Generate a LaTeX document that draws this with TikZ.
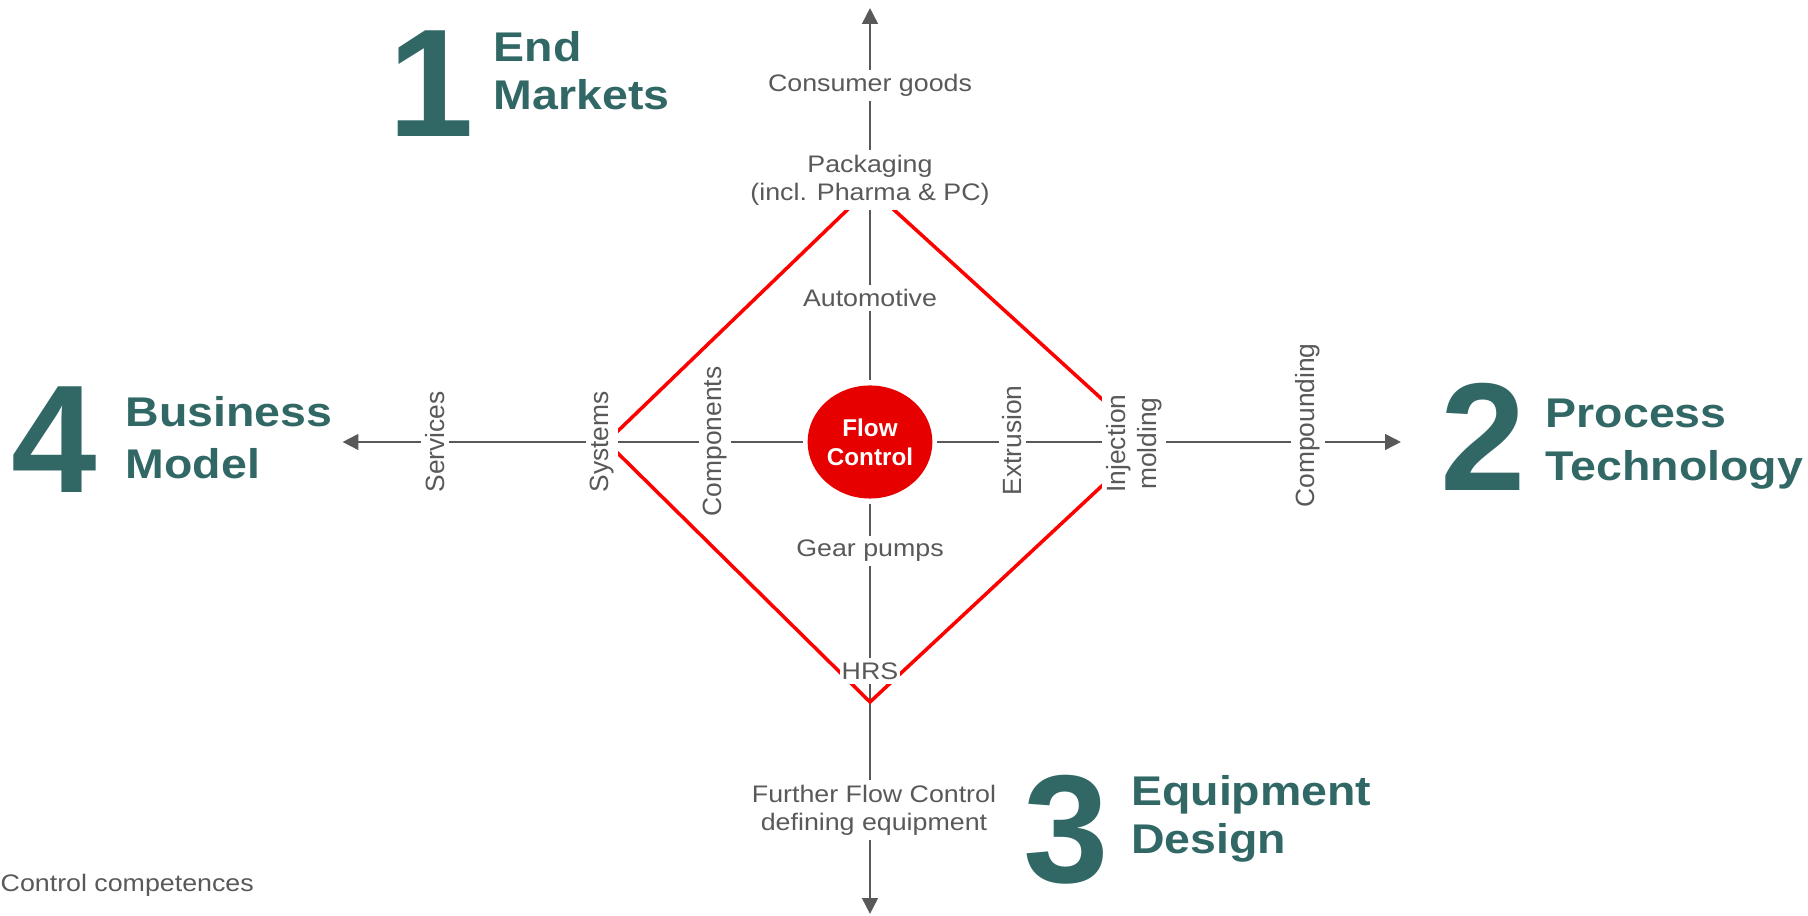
\documentclass[tikz,border=0pt]{standalone}
\usepackage{fontspec}
\setmainfont{Liberation Sans}
\newfontfamily\widefont{Liberation Sans}[FakeStretch=1.12]
\usetikzlibrary{arrows.meta,shapes.geometric}

\definecolor{fcteal}{RGB}{49,104,101}
\definecolor{fcgray}{RGB}{89,89,89}
\definecolor{fcred}{RGB}{255,0,0}
\definecolor{fchub}{RGB}{230,0,0}

\tikzset{
  axis/.style={draw=fcgray, line width=0.75pt},
  axisarrow/.style={axis, -{Triangle[length=4.5pt,width=4.4pt]}},
  rim/.style={draw=fcred, line width=1pt},
  hubnode/.style={ellipse, fill=fchub, text=white, minimum width=1.247cm, minimum height=1.13cm,
    inner sep=0pt, outer sep=0.05cm, align=center, font=\bfseries\fontsize{6.9}{8.25}\selectfont},
  axlabel/.style={fill=white, text=fcgray, inner xsep=0.6pt, inner ysep=1.2pt, align=center,
    font=\widefont\fontsize{6.8}{8.05}\selectfont},
  axlabelv/.style={axlabel, rotate=90, font=\fontsize{7.5}{9}\selectfont},
  bignum/.style={text=fcteal, inner sep=0pt, anchor=base, font=\bfseries\fontsize{43.7}{44}\selectfont},
  heading/.style={text=fcteal, inner sep=0pt, anchor=north west, align=left,
    font=\widefont\bfseries\fontsize{11.8}{#1}\selectfont},
  heading/.default=13.7,
  note/.style={text=fcgray, inner sep=0pt, anchor=base west, font=\widefont\fontsize{6.8}{8}\selectfont}
}

\begin{document}
\begin{tikzpicture}[x=0.01cm,y=-0.01cm]
\useasboundingbox (0,0) rectangle (1808,916);

% centre and the four axes
\node[hubnode] (fc) at (870,442) {Flow\\Control};
\coordinate (endN) at (870,8);
\coordinate (endS) at (870,914);
\coordinate (endW) at (342.5,442);
\coordinate (endE) at (1401,442);
\foreach \e in {endN,endS,endW,endE}
  \draw[axisarrow] (fc) -- (\e);

% red diamond
\coordinate (dtop) at (870,188);
\coordinate (dright) at (1149,442);
\coordinate (dbot) at (870,702);
\coordinate (dleft) at (606.5,442);
\draw[rim] (dtop) -- (dright) -- (dbot) -- (dleft) -- cycle;

% vertical axis labels
\node[axlabel] (cons) at (870,85.5) {Consumer goods};
\node[axlabel] (pack) at (870,180) {Packaging\\(incl. Pharma \& PC)};
\node[axlabel] (auto) at (870,298) {Automotive};
\node[axlabel] (gear) at (870,551) {Gear pumps};
\node[axlabel] (hrs) at (870,671) {HRS};
\node[axlabel] (further) at (874,810) {Further Flow Control\\defining equipment};

% horizontal axis labels
\node[axlabelv] (serv) at (435,442) {Services};
\node[axlabelv] (sys) at (601.7,442) {Systems};
\node[axlabelv] (comp) at (714.8,441.5) {Components};
\node[axlabelv] (extr) at (1012.5,440.5) {Extrusion};
\node[axlabelv] (inj) at (1134,443.5) {Injection\\molding};
\node[axlabelv] (compd) at (1308,425.5) {Compounding};

% dimensions
\node[bignum] (n1) at (431,137) {1};
\node[heading] (h1) at (493,31) {End\\Markets};
\node[bignum] (n2) at (1483,491) {2};
\node[heading=15.2] (h2) at (1545,398) {Process\\Technology};
\node[bignum] (n3) at (1066,883) {3};
\node[heading] (h3) at (1130.5,775) {Equipment\\Design};
\node[bignum] (n4) at (54,493) {4};
\node[heading=14.9] (h4) at (125,395.3) {Business\\Model};

\node[note] (cc) at (0,891.7) {Control competences};
\end{tikzpicture}
\end{document}
